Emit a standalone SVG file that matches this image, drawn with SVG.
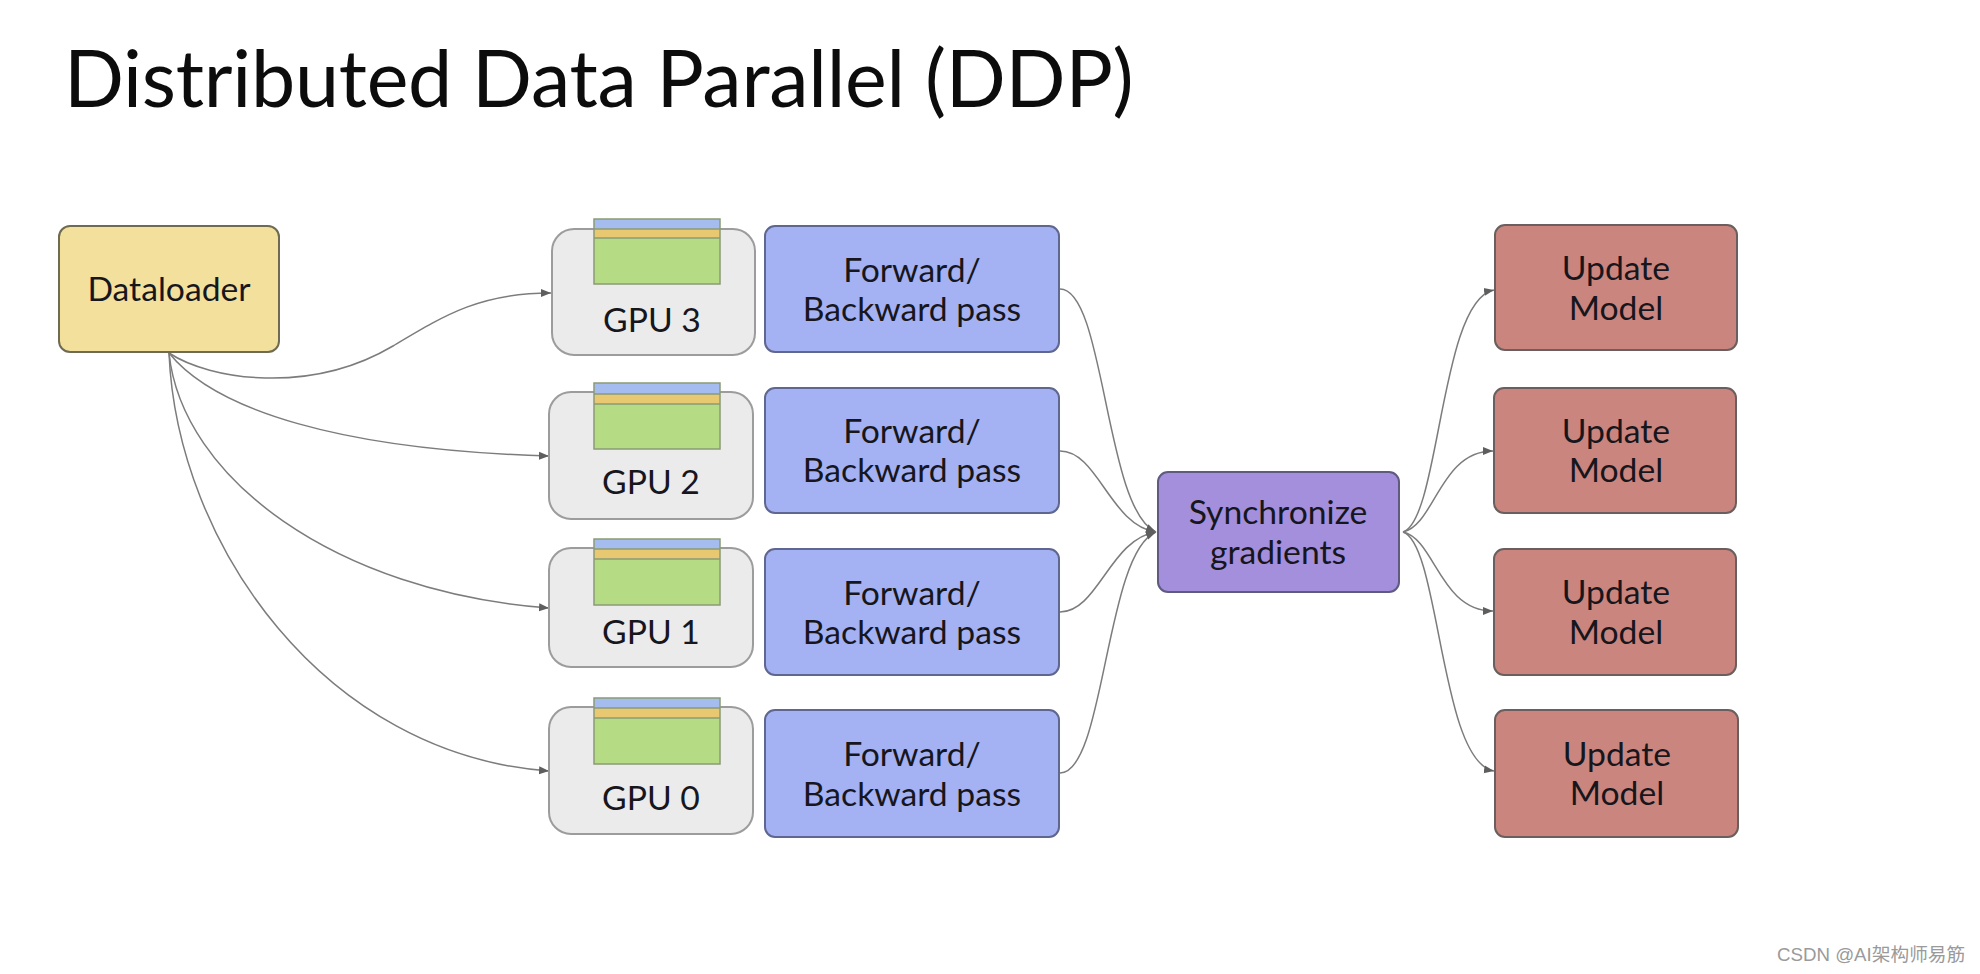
<svg xmlns="http://www.w3.org/2000/svg" width="1980" height="974" viewBox="0 0 1980 974">
<style>
text{font-family:"Lato","Noto Sans",sans-serif;fill:#16161c;text-anchor:middle;font-size:33.7px}
.title{font-size:79px;text-anchor:start;fill:#0c0c0c;letter-spacing:-0.25px}
.wm{font-family:"Liberation Sans","Noto Sans CJK SC",sans-serif;font-size:18.7px;fill:#9a9a9a;text-anchor:start}
.dl{fill:#f2e09c;stroke:#6f6a52;stroke-width:2}
.gpu{fill:#ebebeb;stroke:#9c9c9c;stroke-width:2}
.fb{fill:#a4b1f3;stroke:#5f668f;stroke-width:2}
.sync{fill:#a38fdb;stroke:#5e5a80;stroke-width:2}
.um{fill:#cb857f;stroke:#6a5f5e;stroke-width:2}
.c1{fill:#a4bdee}.c2{fill:#e8c870}.c3{fill:#b5dc85}
.ol{fill:none;stroke:#8b9a76;stroke-width:1.5}
.edge{fill:none;stroke:#7c7c7c;stroke-width:1.5}
.head{fill:#5e5e5e}
</style>
<defs>
<marker id="arr" viewBox="0 0 10 10" refX="10" refY="5" markerWidth="10" markerHeight="10" markerUnits="userSpaceOnUse" orient="auto"><path class="head" d="M0 1L10 5L0 9z"/></marker>
</defs>
<text class="title" x="64" y="107">Distributed Data Parallel (DDP)</text>
<g id="connectors">
<path class="edge" marker-end="url(#arr)" d="M169 353C210 380 310 395 393 346C445 315 480 293 551 293"/>
<path class="edge" marker-end="url(#arr)" d="M169 353C215 410 340 450 549 456"/>
<path class="edge" marker-end="url(#arr)" d="M169 353C182 478 335 592 549 608"/>
<path class="edge" marker-end="url(#arr)" d="M169 353C177 545 325 755 549 771"/>
<path class="edge" marker-end="url(#arr)" d="M1060 289C1105 289 1105 510 1156 532"/>
<path class="edge" marker-end="url(#arr)" d="M1060 451C1098 451 1110 525 1156 532"/>
<path class="edge" marker-end="url(#arr)" d="M1060 612C1098 612 1110 539 1156 532"/>
<path class="edge" marker-end="url(#arr)" d="M1060 773C1105 773 1105 553 1156 532"/>
<path class="edge" marker-end="url(#arr)" d="M1403 532C1440 520 1440 300 1494 290"/>
<path class="edge" marker-end="url(#arr)" d="M1403 532C1435 525 1440 451 1493 451"/>
<path class="edge" marker-end="url(#arr)" d="M1403 532C1435 539 1440 611 1493 611"/>
<path class="edge" marker-end="url(#arr)" d="M1403 532C1440 544 1440 762 1494 771"/>
</g>
<g id="dataloader"><rect class="dl" x="59" y="226" width="220" height="126" rx="11"/><text x="169" y="301">Dataloader</text></g>
<g id="gpu3"><rect class="gpu" x="552" y="229" width="203" height="126" rx="22"/><rect class="c1" x="594" y="219" width="126" height="10"/><rect class="c2" x="594" y="229" width="126" height="9"/><rect class="c3" x="594" y="238" width="126" height="46"/><path class="ol" d="M594 219H720V284H594ZM594 229H720M594 238H720"/><text x="652" y="332">GPU 3</text></g>
<g id="gpu2"><rect class="gpu" x="549" y="392" width="204" height="127" rx="22"/><rect class="c1" x="594" y="383" width="126" height="11"/><rect class="c2" x="594" y="394" width="126" height="10"/><rect class="c3" x="594" y="404" width="126" height="45"/><path class="ol" d="M594 383H720V449H594ZM594 394H720M594 404H720"/><text x="651" y="494">GPU 2</text></g>
<g id="gpu1"><rect class="gpu" x="549" y="548" width="204" height="119" rx="22"/><rect class="c1" x="594" y="539" width="126" height="10"/><rect class="c2" x="594" y="549" width="126" height="10"/><rect class="c3" x="594" y="559" width="126" height="46"/><path class="ol" d="M594 539H720V605H594ZM594 549H720M594 559H720"/><text x="651" y="644">GPU 1</text></g>
<g id="gpu0"><rect class="gpu" x="549" y="707" width="204" height="127" rx="22"/><rect class="c1" x="594" y="698" width="126" height="10"/><rect class="c2" x="594" y="708" width="126" height="10"/><rect class="c3" x="594" y="718" width="126" height="46"/><path class="ol" d="M594 698H720V764H594ZM594 708H720M594 718H720"/><text x="651" y="810">GPU 0</text></g>
<g id="fb3"><rect class="fb" x="765" y="226" width="294" height="126" rx="10"/><text x="912" y="282">Forward/</text><text x="912" y="321">Backward pass</text></g>
<g id="fb2"><rect class="fb" x="765" y="388" width="294" height="125" rx="10"/><text x="912" y="443">Forward/</text><text x="912" y="482">Backward pass</text></g>
<g id="fb1"><rect class="fb" x="765" y="549" width="294" height="126" rx="10"/><text x="912" y="605">Forward/</text><text x="912" y="644">Backward pass</text></g>
<g id="fb0"><rect class="fb" x="765" y="710" width="294" height="127" rx="10"/><text x="912" y="766">Forward/</text><text x="912" y="806">Backward pass</text></g>
<g id="sync"><rect class="sync" x="1158" y="472" width="241" height="120" rx="10"/><text x="1278" y="524">Synchronize</text><text x="1278" y="564">gradients</text></g>
<g id="um3"><rect class="um" x="1495" y="225" width="242" height="125" rx="10"/><text x="1616" y="280">Update</text><text x="1616" y="320">Model</text></g>
<g id="um2"><rect class="um" x="1494" y="388" width="242" height="125" rx="10"/><text x="1616" y="443">Update</text><text x="1616" y="482">Model</text></g>
<g id="um1"><rect class="um" x="1494" y="549" width="242" height="126" rx="10"/><text x="1616" y="604">Update</text><text x="1616" y="644">Model</text></g>
<g id="um0"><rect class="um" x="1495" y="710" width="243" height="127" rx="10"/><text x="1617" y="766">Update</text><text x="1617" y="805">Model</text></g>
<text class="wm" x="1777" y="961">CSDN @AI架构师易筋</text>
</svg>
